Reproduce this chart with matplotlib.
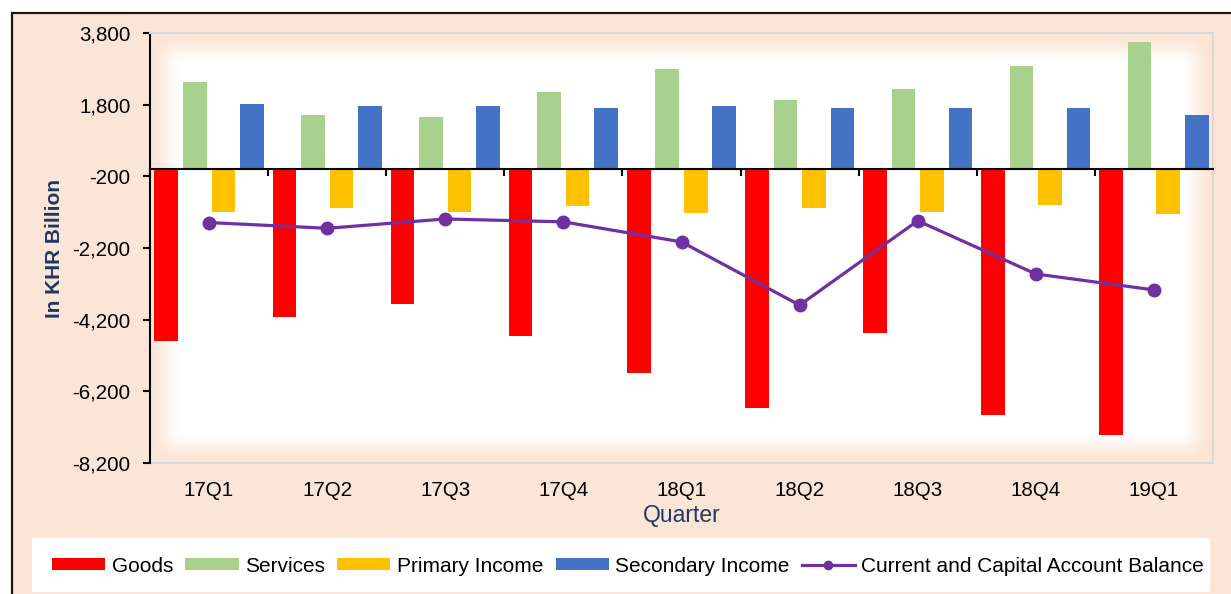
import numpy as np
import matplotlib
matplotlib.use('Agg')
import matplotlib.pyplot as plt
from matplotlib.patches import Rectangle
from matplotlib.ticker import FuncFormatter

plt.rcParams['font.family'] = ['Liberation Sans', 'DejaVu Sans']

quarters = ['17Q1', '17Q2', '17Q3', '17Q4', '18Q1', '18Q2', '18Q3', '18Q4', '19Q1']
goods = [-4800, -4130, -3760, -4650, -5680, -6660, -4560, -6860, -7420]
services = [2430, 1505, 1450, 2160, 2790, 1920, 2240, 2890, 3545]
primary_income = [-1190, -1090, -1190, -1030, -1230, -1090, -1195, -1000, -1250]
secondary_income = [1815, 1764, 1764, 1708, 1764, 1708, 1708, 1708, 1505]
balance = [-1490, -1650, -1390, -1470, -2030, -3795, -1440, -2925, -3370]

peach = '#FBE5D6'
navy = '#1F3864'

fig = plt.figure(figsize=(12.31, 5.94), dpi=100, facecolor='white')
fig.add_artist(Rectangle((12 / 1231, -0.1), 1.2, 1 - 13 / 594 + 0.1,
                         transform=fig.transFigure, facecolor=peach,
                         edgecolor='#1a1a1a', linewidth=1.6, zorder=0))
fig.add_artist(Rectangle((32 / 1231, 1 - 592 / 594), 1178 / 1231, 54 / 594,
                         transform=fig.transFigure, facecolor='white',
                         edgecolor='none', zorder=1))

left, right, top, bottom = 150, 1213, 33, 463
ax = fig.add_axes([left / 1231, 1 - bottom / 594, (right - left) / 1231, (bottom - top) / 594])
ax.set_facecolor(peach)

# soft-edged white plot area
W, H = right - left, bottom - top
fade = 32.0
xs = np.arange(W) + 0.5
ys = np.arange(H) + 0.5
dx = np.minimum(xs, W - xs)
dy = np.minimum(ys, H - ys)
def ss(d):
    t = np.clip(d / fade, 0, 1)
    return t * t * (3 - 2 * t)
alpha = np.outer(ss(dy), ss(dx))
img = np.ones((H, W, 4))
img[..., 3] = alpha
ax.imshow(img, extent=[0, 1, 0, 1], transform=ax.transAxes, aspect='auto',
          zorder=0, interpolation='bilinear')

x = np.arange(len(quarters))
pitch = 0.2415
bw = 0.2
series = [('Goods', goods, '#FF0000'),
          ('Services', services, '#A9D18E'),
          ('Primary Income', primary_income, '#FFC000'),
          ('Secondary Income', secondary_income, '#4472C4')]
for i, (name, vals, col) in enumerate(series):
    ax.bar(x + (i - 1.5) * pitch, vals, width=bw, color=col, label=name, zorder=2)

ax.plot(x, balance, color='#7030A0', linewidth=2.3, marker='o', markersize=9,
        label='Current and Capital Account Balance', zorder=5)

ax.set_xlim(-0.5, len(quarters) - 0.5)
ax.set_ylim(-8200, 3800)
ax.set_yticks(np.arange(-8200, 3801, 2000))
ax.yaxis.set_major_formatter(FuncFormatter(lambda v, p: f'{v:,.0f}'))
ax.tick_params(axis='y', direction='out', length=5, width=1.5, pad=9,
               labelsize=14.8, colors='black')

ax.set_xticks(np.arange(-0.5, len(quarters), 1.0))
ax.tick_params(axis='x', direction='out', length=5, width=1.5, labelbottom=False)

ax.spines['bottom'].set_position(('data', 0))
ax.spines['bottom'].set_color('black')
ax.spines['bottom'].set_linewidth(1.5)
ax.spines['left'].set_color('black')
ax.spines['left'].set_linewidth(1.5)
for s in ['top', 'right']:
    ax.spines[s].set_color('#D9D9D9')
    ax.spines[s].set_linewidth(1.5)

sec = ax.secondary_xaxis('bottom')
sec.set_xticks(x, quarters)
sec.tick_params(length=0, pad=13, labelsize=14.8, colors='black')
sec.spines['bottom'].set_color('#D9D9D9')
sec.spines['bottom'].set_linewidth(1.5)
sec.set_xlabel('Quarter', fontsize=16.5, color=navy, labelpad=3)

ax.set_ylabel('In KHR Billion', fontsize=15, fontweight='bold', color=navy)
ax.yaxis.set_label_coords(-0.081, 0.5)

handles, labels = ax.get_legend_handles_labels()
order = [1, 2, 3, 4, 0]
leg = fig.legend([handles[i] for i in order], [labels[i] for i in order],
                 loc='center', bbox_to_anchor=(628 / 1231, 1 - 566 / 594),
                 ncol=5, frameon=False, fontsize=15, handlelength=2.55,
                 handleheight=0.55, handletextpad=0.3, columnspacing=0.6,
                 borderpad=0)
leg.set_zorder(3)
for h in leg.legend_handles:
    if hasattr(h, 'set_markersize'):
        h.set_markersize(6)

fig.savefig('out.png', dpi=100, facecolor=fig.get_facecolor())
